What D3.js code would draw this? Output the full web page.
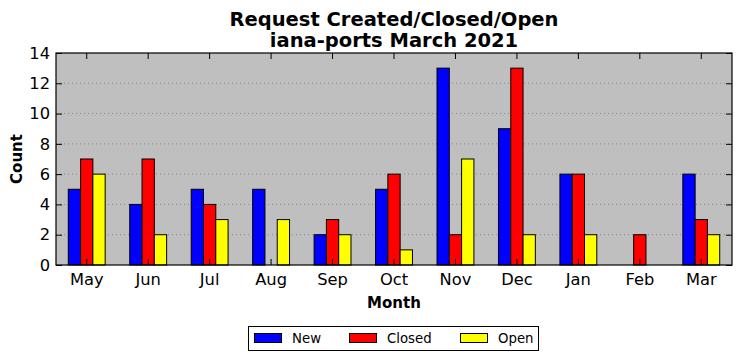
<!DOCTYPE html>
<html><head><meta charset="utf-8">
<script src="https://cdn.jsdelivr.net/npm/d3@7"></script>
<style>body{margin:0;background:#fff}svg{font-family:"DejaVu Sans",sans-serif}</style>
</head><body><svg id="c" width="741" height="361"></svg>
<script>
const months = ["May","Jun","Jul","Aug","Sep","Oct","Nov","Dec","Jan","Feb","Mar"];
const newVals = [5,4,5,5,2,5,13,9,6,0,6];
const closedVals = [7,7,4,0,3,6,2,13,6,2,3];
const openVals = [6,2,3,3,2,1,7,2,2,0,2];
const seriesNames = ["New","Closed","Open"];
const seriesColors = ["#0000ff","#ff0000","#ffff00"];
const yTicks = [0,2,4,6,8,10,12,14];

const svg = d3.select("#c");
const L=56, R=732, T=53, B=265;
const x = d3.scaleBand().domain(months).range([L,R]).padding(0);
const y = d3.scaleLinear().domain([0,14]).range([B,T]);
const bw = x.bandwidth()*0.2;

svg.append("rect").attr("x",L).attr("y",T).attr("width",R-L).attr("height",B-T).attr("fill","#bfbfbf");
// grid
svg.append("g").selectAll("line").data(yTicks.slice(1,-1)).join("line")
  .attr("x1",L).attr("x2",R).attr("y1",d=>y(d)).attr("y2",d=>y(d))
  .attr("stroke","#8a8a8a").attr("stroke-width",1).attr("stroke-dasharray","1,3");

const series = [newVals,closedVals,openVals];
series.forEach((vals,si)=>{
  svg.append("g").selectAll("rect").data(vals).join("rect")
    .attr("x",(d,i)=>x(months[i])+x.bandwidth()/2+(si-1.5)*bw)
    .attr("y",d=>y(d)).attr("width",bw).attr("height",d=>B-y(d))
    .attr("fill",seriesColors[si]).attr("stroke","#000").attr("stroke-width",1);
});

// axes
const ax = svg.append("g");
ax.append("g").attr("transform",`translate(0,${B})`)
  .call(d3.axisBottom(x).tickSizeInner(-6).tickSizeOuter(0).tickPadding(8))
  .call(g=>{g.select(".domain").remove();g.selectAll("text").attr("font-size",16.3).attr("fill","#000").attr("font-family","DejaVu Sans");});
ax.append("g").attr("transform",`translate(0,${T})`)
  .call(d3.axisTop(x).tickSizeInner(-6).tickSizeOuter(0).tickFormat(""))
  .call(g=>g.select(".domain").remove());
ax.append("g").attr("transform",`translate(${L},0)`)
  .call(d3.axisLeft(y).tickValues(yTicks).tickSizeInner(-6).tickSizeOuter(0).tickPadding(6))
  .call(g=>{g.select(".domain").remove();g.selectAll("text").attr("font-size",16.3).attr("fill","#000").attr("font-family","DejaVu Sans");});
ax.append("g").attr("transform",`translate(${R},0)`)
  .call(d3.axisRight(y).tickValues(yTicks).tickSizeInner(-6).tickSizeOuter(0).tickFormat(""))
  .call(g=>g.select(".domain").remove());
svg.append("rect").attr("x",L).attr("y",T).attr("width",R-L).attr("height",B-T).attr("fill","none").attr("stroke","#000").attr("stroke-width",1.2);

// titles
const cx=(L+R)/2;
svg.append("text").attr("x",cx).attr("y",26).attr("text-anchor","middle").attr("font-size",19.5).attr("font-weight","bold").text("Request Created/Closed/Open");
svg.append("text").attr("x",cx).attr("y",47).attr("text-anchor","middle").attr("font-size",19.5).attr("font-weight","bold").text("iana-ports March 2021");
svg.append("text").attr("x",cx).attr("y",308).attr("text-anchor","middle").attr("font-size",15).attr("font-weight","bold").text("Month");
svg.append("text").attr("transform",`translate(22,${(T+B)/2}) rotate(-90)`).attr("text-anchor","middle").attr("font-size",15).attr("font-weight","bold").text("Count");

// legend
const lg = svg.append("g");
lg.append("rect").attr("x",248.5).attr("y",326.5).attr("width",290).attr("height",24).attr("fill","#fff").attr("stroke","#000");
const lx=[254,349,460];
seriesNames.forEach((n,i)=>{
  lg.append("rect").attr("x",lx[i]+0.5).attr("y",333.5).attr("width",27).attr("height",9).attr("fill",seriesColors[i]).attr("stroke","#000");
  lg.append("text").attr("x",lx[i]+38).attr("y",343).attr("font-size",13.3).text(n);
});
</script></body></html>
